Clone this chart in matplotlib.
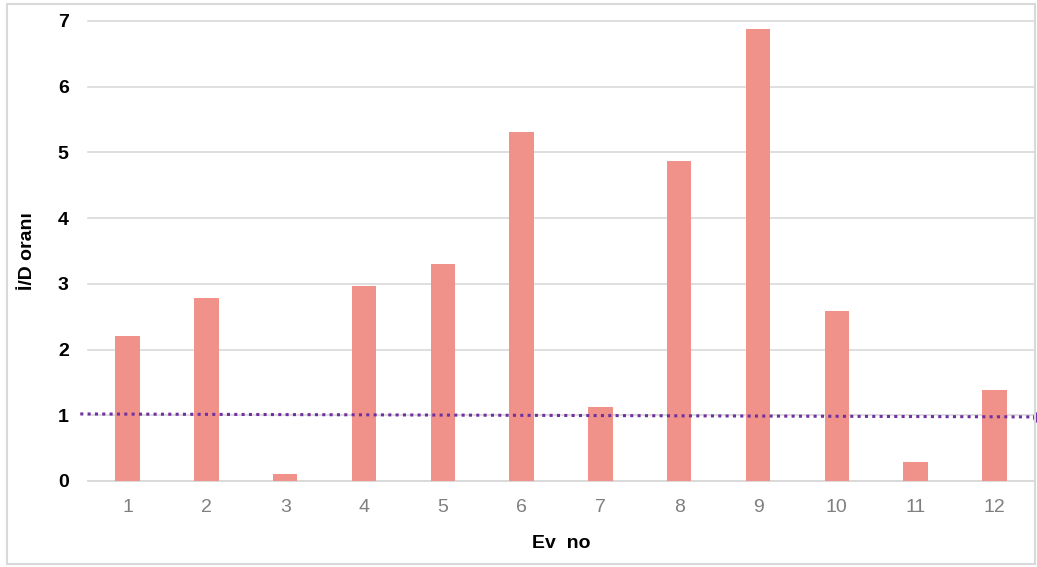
import matplotlib.pyplot as plt
from matplotlib.patches import Rectangle

plt.rcParams['font.family'] = ['Liberation Sans', 'DejaVu Sans']

houses = [1, 2, 3, 4, 5, 6, 7, 8, 9, 10, 11, 12]
ratios = [2.21, 2.78, 0.11, 2.97, 3.30, 5.31, 1.13, 4.87, 6.88, 2.59, 0.29, 1.38]
trend_x = [0.4, 12.55]
trend_y = [1.02, 0.975]

fig = plt.figure(figsize=(10.37, 5.67), dpi=100)
ax = fig.add_axes([0.085, 0.1517, 0.912, 0.8113])

ax.bar(houses, ratios, width=0.31, color='#F0928A', zorder=3)
ax.plot(trend_x, trend_y, linestyle=(0, (1, 1.4)), color='#7030A0',
        linewidth=2.2, zorder=4, clip_on=False)
ax.plot(trend_x[-1], trend_y[-1], 'o', color='#7030A0', markersize=7,
        zorder=4, clip_on=False)

ax.set_xlim(0.5, 12.5)
ax.set_ylim(0, 7)
ax.set_xticks(houses)
ax.set_yticks(range(8))
ax.grid(axis='y', color='#d9d9d9', linewidth=1.2, zorder=0)
for gl in ax.get_ygridlines():
    gl.set_clip_on(False)
for side in ['top', 'right', 'left']:
    ax.spines[side].set_visible(False)
ax.spines['bottom'].set_color('#d9d9d9')
ax.spines['bottom'].set_linewidth(1.2)
ax.tick_params(axis='both', length=0)
ax.tick_params(axis='y', pad=14, labelsize=14)
ax.tick_params(axis='x', pad=13, labelsize=14, labelcolor='#7f7f7f')
for lbl in ax.get_yticklabels():
    lbl.set_fontweight('bold')

ax.set_xlabel('Ev  no', fontsize=14, fontweight='bold', labelpad=14)
ax.set_ylabel('İ/D oranı', fontsize=14, fontweight='bold', labelpad=16)

# thin frame around the whole chart
fig.patches.append(Rectangle((0.007, 0.005), 0.991, 0.988, transform=fig.transFigure,
                             fill=False, edgecolor='#d9d9d9', linewidth=1.5))

fig.savefig('out.png', dpi=100)
